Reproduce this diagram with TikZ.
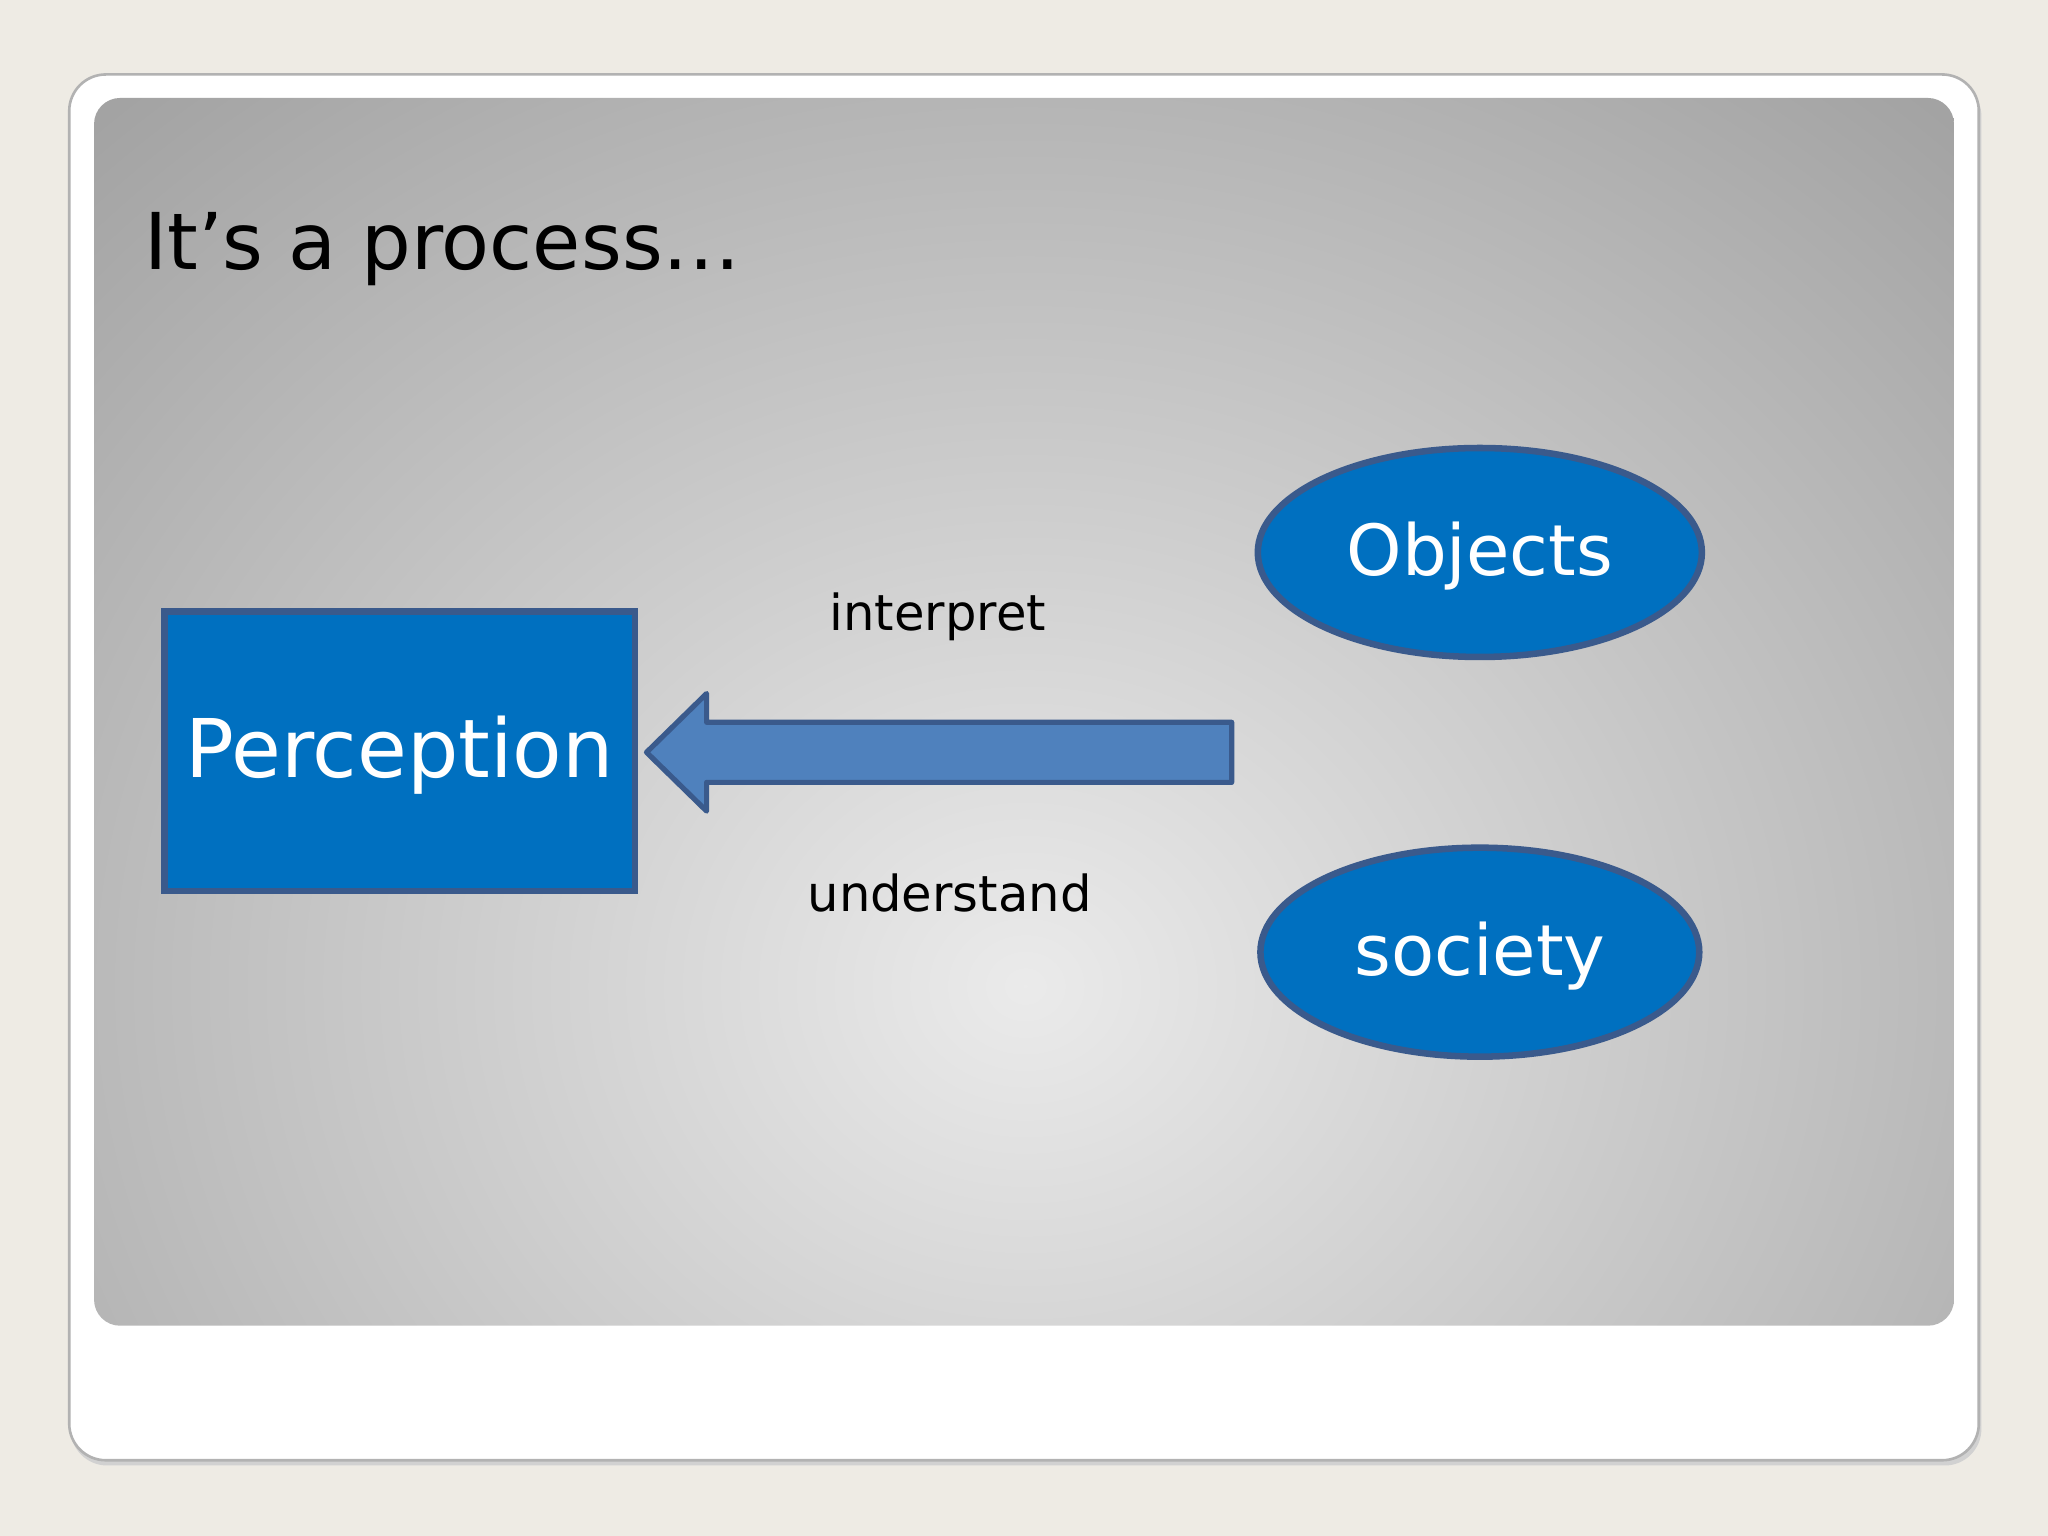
\documentclass[tikz,border=0pt]{standalone}
\usepackage{fontspec}
\setmainfont{DejaVu Sans}
\usetikzlibrary{shapes.geometric}
\definecolor{bg}{HTML}{EEEBE4}
\definecolor{blu}{HTML}{0070C0}
\definecolor{arr}{HTML}{4F81BD}
\definecolor{edge}{HTML}{3A5A8C}
\tikzset{
  shapeedge/.style={draw=edge,line width=2.5pt},
  lbl/.style={text=black,font=\fontsize{19}{23}\selectfont,inner sep=0pt},
  oval/.style={ellipse,shapeedge,fill=blu,text=white,minimum width=170pt,minimum height=80pt,inner sep=0pt,text depth=3pt}
}
\begin{document}
\begin{tikzpicture}[x=0.5pt,y=-0.5pt]
\useasboundingbox (0,0) rectangle (1568,1176);
\fill[bg] (0,0) rectangle (1568,1176);
\fill[black!18,rounded corners=14pt] (54,61) rectangle (1517,1122);
\filldraw[fill=white,draw=black!30,line width=1pt,rounded corners=14pt] (53,57) rectangle (1515,1118);
\begin{scope}
\clip[rounded corners=10pt] (72,75) rectangle (1496,1015);
\shade[inner color=black!8,outer color=black!36] (-250,-150) rectangle (1820,1660);
\end{scope}
\node[anchor=base west,inner sep=0pt,font=\fontsize{30}{36}\selectfont] (title) at (110,206) {It’s a process…};
\node[shapeedge,fill=blu,text=white,minimum width=180pt,minimum height=107pt,inner sep=0pt,text depth=3pt,font=\fontsize{31}{37}\selectfont] (perc) at (306,575) {Perception};
\node[oval,font=\fontsize{27}{32}\selectfont] (obj) at (1133,423) {Objects};
\node[oval,minimum width=168pt,font=\fontsize{27}{32}\selectfont] (soc) at (1133,729) {society};
\node[lbl] (interp) at (718,472) {interpret};
\node[lbl] (und) at (727,684) {understand};
\filldraw[shapeedge,fill=arr,line width=2pt,line join=round] (943,553) -- (541,553) -- (541,531) -- (495,576) -- (541,621) -- (541,599) -- (943,599) -- cycle;
\end{tikzpicture}
\end{document}
